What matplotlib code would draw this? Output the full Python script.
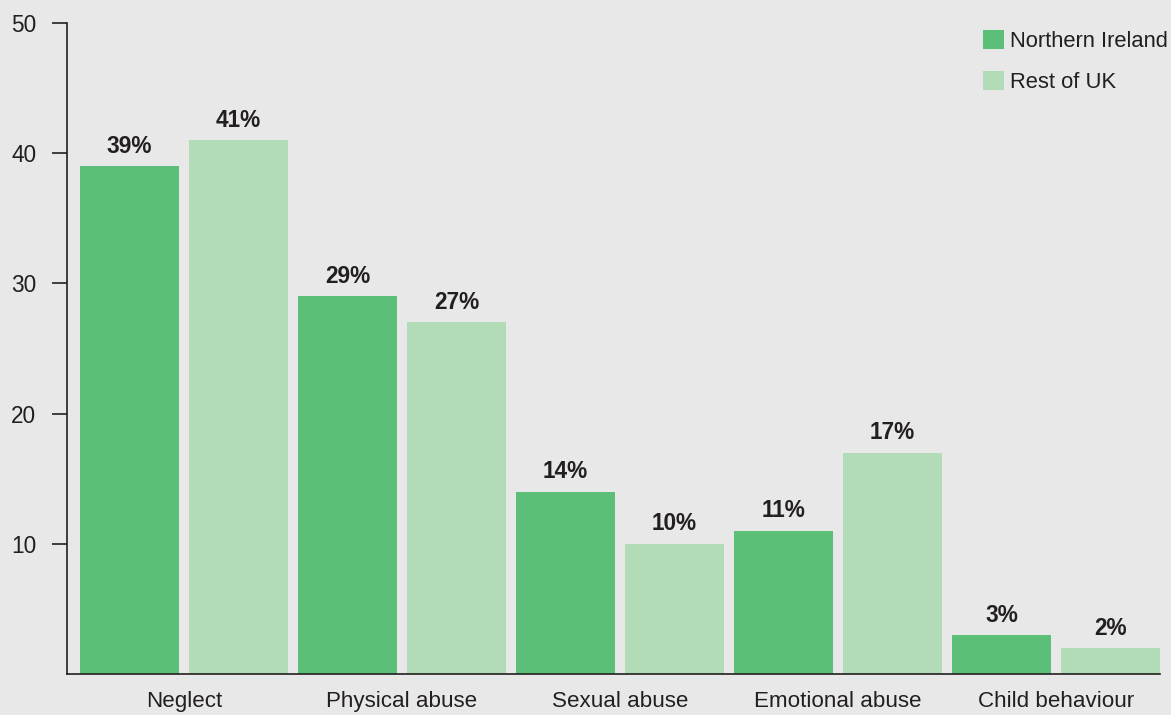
import numpy as np
import matplotlib.pyplot as plt

plt.rcParams['font.family'] = ['Liberation Sans', 'DejaVu Sans']

categories = ['Neglect', 'Physical abuse', 'Sexual abuse', 'Emotional abuse', 'Child behaviour']
northern_ireland = [39, 29, 14, 11, 3]
rest_of_uk = [41, 27, 10, 17, 2]

bg = '#e7e8e7'
text_col = '#231f20'
ni_col = '#5cbf78'
ruk_col = '#b1dcb7'

fig = plt.figure(figsize=(11.71, 7.15), dpi=100, facecolor=bg)
ax = fig.add_axes([67 / 1171, 1 - 674 / 715, (1160 - 67) / 1171, (674 - 23) / 715])
ax.set_facecolor(bg)

x = np.arange(len(categories))
w = 99 / 218
b1 = ax.bar(x - 0.25, northern_ireland, w, color=ni_col, label='Northern Ireland')
b2 = ax.bar(x + 0.25, rest_of_uk, w, color=ruk_col, label='Rest of UK')

for bars, vals in [(b1, northern_ireland), (b2, rest_of_uk)]:
    for bar, v in zip(bars, vals):
        ax.annotate(f'{v}%', (bar.get_x() + bar.get_width() / 2, v),
                    xytext=(0, 6), textcoords='offset points',
                    ha='center', va='bottom', fontsize=16.3, fontweight='bold',
                    color=text_col)

ax.set_xlim(-0.25 - w / 2 - 13 / 218, len(categories) - 1 + 0.25 + w / 2)
ax.set_ylim(0, 50)
ax.set_yticks([10, 20, 30, 40, 50])
ax.set_xticks(x)
ax.set_xticklabels(categories)

for s in ['top', 'right']:
    ax.spines[s].set_visible(False)
for s in ['left', 'bottom']:
    ax.spines[s].set_color(text_col)
    ax.spines[s].set_linewidth(1.2)

ax.tick_params(axis='y', length=11, width=1.2, color=text_col, pad=11,
               labelsize=16.3, labelcolor=text_col)
ax.tick_params(axis='x', length=0, pad=12, labelsize=16.1, labelcolor=text_col)

ax.legend(loc='upper left', bbox_to_anchor=(983 / 1171, 1 - 30 / 715),
          bbox_transform=fig.transFigure, frameon=False, fontsize=15.8,
          handlelength=0.95, handleheight=0.95, handletextpad=0.3,
          labelspacing=0.85, borderpad=0, borderaxespad=0,
          labelcolor=text_col)

fig.savefig('out.png', dpi=100, facecolor=bg)
